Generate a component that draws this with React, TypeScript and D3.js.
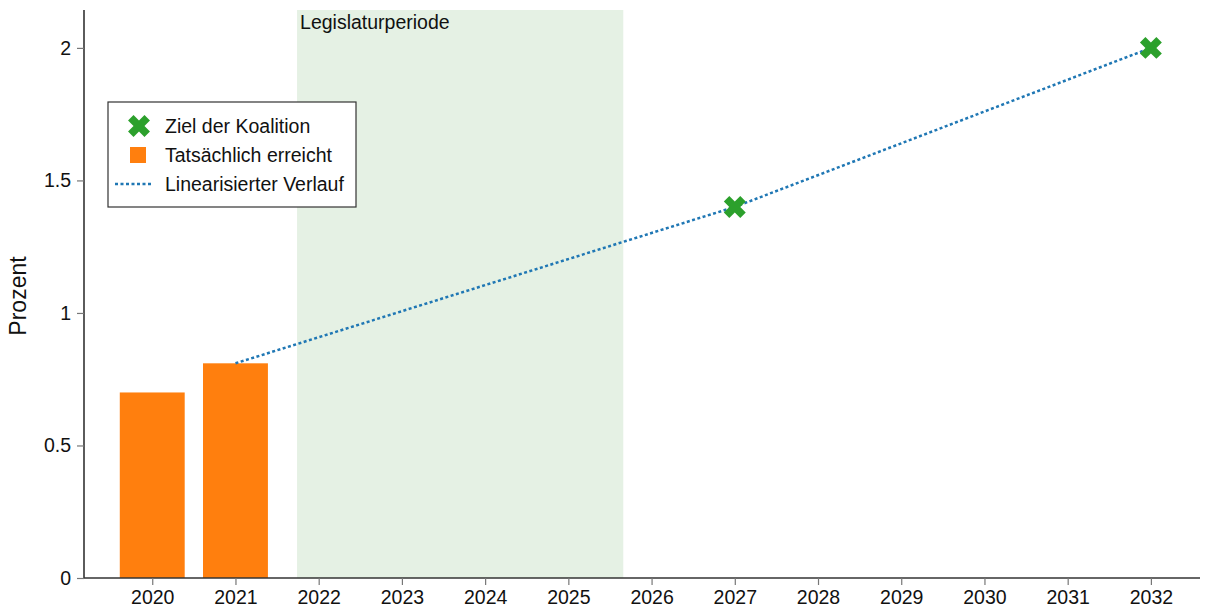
import React, { useEffect, useRef } from 'react';
import * as d3 from 'd3';

const years = [2020, 2021, 2022, 2023, 2024, 2025, 2026, 2027, 2028, 2029, 2030, 2031, 2032];
const barYears = [2020, 2021];
const barValues = [0.7, 0.81];
const goalYears = [2027, 2032];
const goalValues = [1.4, 2.0];
const lineYears = [2021, 2027, 2032];
const lineValues = [0.81, 1.4, 2.0];
const yTicks = [0, 0.5, 1, 1.5, 2];
const legislature = [2021.74, 2025.66];

const W = 1213;
const H = 614;
const font = 'Liberation Sans, Arial, sans-serif';
const fs = 19.5;

export default function App() {
  const ref = useRef<SVGSVGElement>(null);

  useEffect(() => {
    if (!ref.current) return;
    const svg = d3.select(ref.current);
    svg.selectAll('*').remove();

    const left = 84, right = 1200, top = 10, bottom = 578;
    const x = d3.scaleLinear().domain([2019.18, 2032.59]).range([left, right]);
    const y = d3.scaleLinear().domain([0, 2.143]).range([bottom, top]);

    svg.append('rect').attr('width', W).attr('height', H).attr('fill', '#fff');

    // Legislature span
    svg.append('rect')
      .attr('x', x(legislature[0]))
      .attr('y', top)
      .attr('width', x(legislature[1]) - x(legislature[0]))
      .attr('height', bottom - top)
      .attr('fill', '#e5f1e4');
    svg.append('text')
      .attr('x', x(legislature[0]) + 3)
      .attr('y', 29)
      .attr('font-family', font)
      .attr('font-size', fs)
      .attr('fill', '#111')
      .text('Legislaturperiode');

    // Bars
    const bw = 0.78;
    svg.selectAll('.bar')
      .data(barYears)
      .enter()
      .append('rect')
      .attr('x', (d) => x(d - bw / 2))
      .attr('y', (_, i) => y(barValues[i]))
      .attr('width', x(bw) - x(0))
      .attr('height', (_, i) => y(0) - y(barValues[i]))
      .attr('fill', '#ff7f0e');

    // Linearised path
    const line = d3.line<number>()
      .x((d) => x(d))
      .y((_, i) => y(lineValues[i]));
    svg.append('path')
      .attr('d', line(lineYears))
      .attr('fill', 'none')
      .attr('stroke', '#1f77b4')
      .attr('stroke-width', 2.5)
      .attr('stroke-dasharray', '3,2.5');

    // Goal markers
    const cross = d3.symbol().type(d3.symbolCross).size(300);
    svg.selectAll('.goal')
      .data(goalYears)
      .enter()
      .append('path')
      .attr('d', cross() as string)
      .attr('transform', (d, i) => `translate(${x(d)},${y(goalValues[i])}) rotate(45)`)
      .attr('fill', '#2ca02c');

    // Axes
    const axisColor = '#333';
    const yAxis = svg.append('g').attr('transform', `translate(${left},0)`)
      .call(d3.axisLeft(y).tickValues(yTicks).tickSize(7).tickPadding(6).tickFormat((d) => String(d)));
    const xAxis = svg.append('g').attr('transform', `translate(0,${bottom})`)
      .call(d3.axisBottom(x).tickValues(years).tickSize(7).tickPadding(5).tickFormat((d) => String(d)));
    [yAxis, xAxis].forEach((a) => {
      a.select('.domain').attr('stroke', axisColor).attr('stroke-width', 1.6);
      a.selectAll('.tick line').attr('stroke', '#777').attr('stroke-width', 1.2);
      a.selectAll('.tick text').attr('font-family', font).attr('font-size', fs).attr('fill', '#111');
    });
    yAxis.select('.domain').attr('d', `M0,${top}V${bottom}`);
    xAxis.select('.domain').attr('d', `M${left},0H${right}`);

    svg.append('text')
      .attr('transform', `translate(26,${(top + bottom) / 2 + 2}) rotate(-90)`)
      .attr('text-anchor', 'middle')
      .attr('font-family', font)
      .attr('font-size', 23)
      .attr('fill', '#111')
      .text('Prozent');

    // Legend
    const lg = svg.append('g').attr('transform', 'translate(108,102)');
    lg.append('rect').attr('width', 248).attr('height', 105)
      .attr('fill', '#fff').attr('stroke', '#333').attr('stroke-width', 1.2);
    const items = ['Ziel der Koalition', 'Tatsächlich erreicht', 'Linearisierter Verlauf'];
    items.forEach((t, i) => {
      const cy = 24 + i * 29;
      lg.append('text').attr('x', 57).attr('y', cy + 7)
        .attr('font-family', font).attr('font-size', fs).attr('fill', '#111').text(t);
      if (i === 0) {
        lg.append('path').attr('d', cross() as string)
          .attr('transform', `translate(31,${cy}) rotate(45)`).attr('fill', '#2ca02c');
      } else if (i === 1) {
        lg.append('rect').attr('x', 22).attr('y', cy - 8).attr('width', 16).attr('height', 16).attr('fill', '#ff7f0e');
      } else {
        lg.append('line').attr('x1', 7).attr('x2', 45).attr('y1', cy).attr('y2', cy)
          .attr('stroke', '#1f77b4').attr('stroke-width', 2.5).attr('stroke-dasharray', '3,2.5');
      }
    });
  }, []);

  return <svg ref={ref} width={W} height={H} style={{ display: 'block', position: 'absolute', left: 0, top: 0 }} />;
}
